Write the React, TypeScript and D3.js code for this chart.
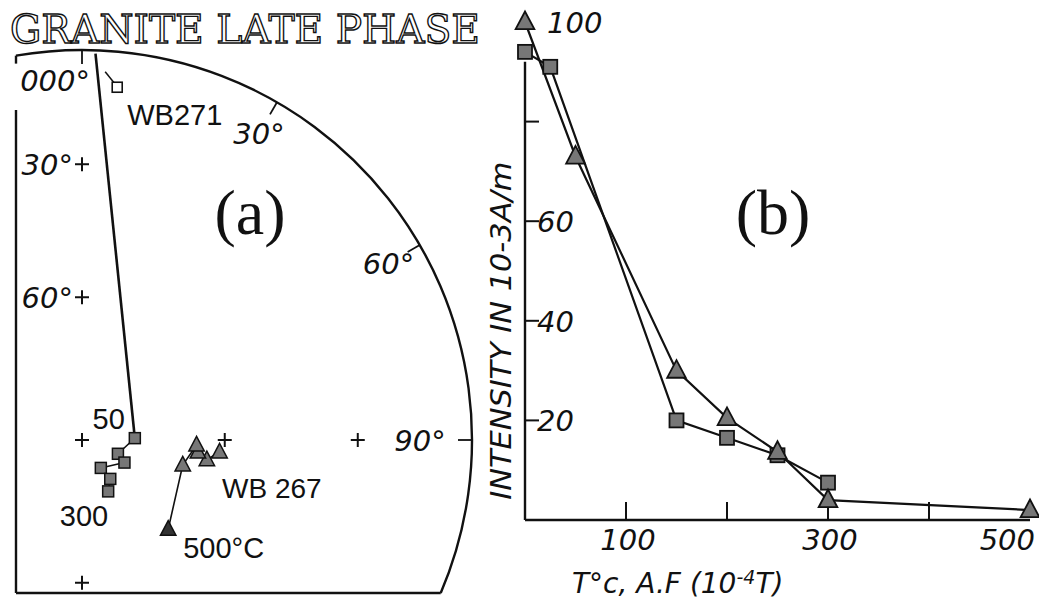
import React from "react";
import * as d3 from "d3";

// ---- (a) equal-area stereonet: declination / inclination in degrees ----
const wb271Dec = [2, 88, 111, 118, 146, 144, 153];
const wb271Inc = [1, 79, 82, 80, 83, 80, 78];
const wb271UpDec = [3.6, 5.2]; // short stroke in the upper hemisphere
const wb271UpInc = [-6, -9];
const wb271OpenDec = [5.7];
const wb271OpenInc = [-10];
const wb267Dec = [95, 99, 96, 92.5, 104, 136];
const wb267Inc = [61, 63.5, 65.6, 66, 68.3, 64];
const gridAzimuths = [0, 30, 60, 90];
const gridLabels = ["000°", "30°", "60°", "90°"];
const crossDec = [0, 0, 0, 90, 90, 180];
const crossInc = [90, 30, 60, 60, 30, 60];
const sideLabels = ["30°", "60°"];

// ---- (b) intensity decay ----
const squareTemps = [0, 25, 150, 200, 250, 300];
const squareValues = [94, 91, 20, 16.5, 13, 7.5];
const triangleTemps = [0, 50, 150, 200, 250, 300, 500];
const triangleValues = [100, 73, 30, 20.5, 13.7, 4, 2];
const xTicks = [100, 200, 300, 400];
const xTickLabels = [100, 300, 500];
const yTicks = [20, 40, 60, 80];
const yTickLabels = [20, 40, 60, 100];

const W = 1039;
const H = 607;
const ink = "#111";
const fillGrey = "#777";
const letterFont = "'DejaVu Sans', sans-serif";
const plainFont = "'Liberation Sans', Arial, sans-serif";

export default function App() {
  // stereonet geometry
  const cx = 82, cy = 440, R = 390;
  const leftX = 16, bottomY = 593;
  const rScale = d3.scaleLinear().domain([0, 1]).range([0, R]);
  const project = (dec: number, inc: number): [number, number] => {
    const r = rScale(Math.SQRT2 * Math.sin(((90 - Math.abs(inc)) * Math.PI) / 360));
    const a = (dec * Math.PI) / 180;
    return [cx + r * Math.sin(a), cy - r * Math.cos(a)];
  };
  const a0 = Math.asin((leftX - cx) / R);
  const a1 = Math.acos(-(bottomY - cy) / R);
  const prim = d3.path();
  prim.arc(cx, cy, R, a0 - Math.PI / 2, a1 - Math.PI / 2);
  const arcStartY = cy - R * Math.cos(a0);
  const arcEndX = cx + R * Math.sin(a1);

  const netLine = d3.line<[number, number]>();
  const p271 = wb271Dec.map((d, i) => project(d, wb271Inc[i]));
  const p271up = wb271UpDec.map((d, i) => project(d, wb271UpInc[i]));
  const p271open = wb271OpenDec.map((d, i) => project(d, wb271OpenInc[i]));
  const p267 = wb267Dec.map((d, i) => project(d, wb267Inc[i]));
  const crosses = crossDec.map((d, i) => project(d, crossInc[i]));

  const tri = (x: number, y: number, s: number) =>
    `M${x},${y - s * 0.62}L${x + s * 0.55},${y + s * 0.42}L${x - s * 0.55},${y + s * 0.42}Z`;

  // (b) scales
  const x = d3.scaleLinear().domain([0, 500]).range([525, 1030]);
  const y = d3.scaleLinear().domain([0, 100]).range([520, 22]);
  const sqLine = d3.line<number>().x((_, i) => x(squareTemps[i])).y((v) => y(v));
  const trLine = d3.line<number>().x((_, i) => x(triangleTemps[i])).y((v) => y(v));

  return (
    <svg
      width={W}
      height={H}
      style={{ position: "absolute", left: 0, top: 0, background: "#fff" }}
    >
      {/* title */}
      <text
        x={10}
        y={43}
        fontFamily="'DejaVu Serif', serif"
        fontSize={40}
        textLength={470}
        lengthAdjust="spacingAndGlyphs"
        fill="#fff"
        stroke={ink}
        strokeWidth={1.4}
      >
        GRANITE LATE PHASE
      </text>

      {/* ---------- panel (a) ---------- */}
      <g fill="none" stroke={ink} strokeWidth={2.4}>
        <path d={prim.toString()} />
        <line x1={leftX} y1={arcStartY} x2={leftX} y2={arcStartY + 8} />
        <line x1={leftX} y1={110} x2={leftX} y2={bottomY} />
        <line x1={leftX} y1={bottomY} x2={arcEndX} y2={bottomY} />
        {gridAzimuths.map((az) => {
          const a = (az * Math.PI) / 180;
          return (
            <line
              key={az}
              x1={cx + R * Math.sin(a)}
              y1={cy - R * Math.cos(a)}
              x2={cx + (R - 14) * Math.sin(a)}
              y2={cy - (R - 14) * Math.cos(a)}
              strokeWidth={1.8}
            />
          );
        })}
      </g>
      {gridAzimuths.map((az, i) => {
        const a = (az * Math.PI) / 180;
        const rr = az === 90 ? R - 52 : R - 36;
        const px = cx + rr * Math.sin(a);
        const py = cy - rr * Math.cos(a);
        return (
          <text
            key={az}
            x={az === 0 ? px + 8 : px}
            y={az === 0 ? py + 5 : py + 11}
            textAnchor={az === 0 ? "end" : "middle"}
            fontFamily={letterFont}
            fontStyle="italic"
            fontSize={29}
            fill={ink}
          >
            {gridLabels[i]}
          </text>
        );
      })}
      {crosses.map(([px, py], i) => (
        <g key={i} stroke={ink} strokeWidth={2}>
          <line x1={px - 7} y1={py} x2={px + 7} y2={py} />
          <line x1={px} y1={py - 7} x2={px} y2={py + 7} />
        </g>
      ))}
      {sideLabels.map((s, i) => {
        const [px, py] = crosses[i + 1];
        return (
          <text
            key={s}
            x={px - 9}
            y={py + 11}
            textAnchor="end"
            fontFamily={letterFont}
            fontStyle="italic"
            fontSize={29}
            fill={ink}
          >
            {s}
          </text>
        );
      })}

      {/* WB271 */}
      <path d={netLine([p271[0], p271[1]]) || ""} fill="none" stroke={ink} strokeWidth={2.6} />
      <path d={netLine(p271.slice(1)) || ""} fill="none" stroke={ink} strokeWidth={1.5} />
      <path d={netLine(p271up) || ""} fill="none" stroke={ink} strokeWidth={1.5} />
      {p271open.map(([px, py], i) => (
        <rect key={i} x={px - 5} y={py - 5} width={10} height={10} fill="#fff" stroke={ink} strokeWidth={1.6} />
      ))}
      {p271.slice(1).map(([px, py], i) => (
        <rect key={i} x={px - 5.5} y={py - 5.5} width={11} height={11} fill={fillGrey} stroke={ink} strokeWidth={1.5} />
      ))}
      <text x={p271open[0][0] + 10} y={p271open[0][1] + 38} fontFamily={plainFont} fontSize={29} fill={ink}>
        WB271
      </text>
      <text x={p271[1][0] - 10} y={p271[1][1] - 9} textAnchor="end" fontFamily={plainFont} fontSize={29} fill={ink}>
        50
      </text>
      <text x={p271[6][0]} y={p271[6][1] + 35} textAnchor="end" fontFamily={plainFont} fontSize={29} fill={ink}>
        300
      </text>

      {/* WB267 */}
      <path d={netLine(p267) || ""} fill="none" stroke={ink} strokeWidth={1.6} />
      {p267.map(([px, py], i) => (
        <path key={i} d={tri(px, py, 14)} fill={i === p267.length - 1 ? "#333" : fillGrey} stroke={ink} strokeWidth={1.5} />
      ))}
      <text x={222} y={498} fontFamily={plainFont} fontSize={28} fill={ink}>
        WB 267
      </text>
      <text x={p267[5][0] + 15} y={p267[5][1] + 29} fontFamily={plainFont} fontSize={29} fill={ink}>
        500°C
      </text>

      <text x={250} y={234} textAnchor="middle" fontFamily="'Liberation Serif', serif" fontSize={64} fill={ink}>
        (a)
      </text>

      {/* ---------- panel (b) ---------- */}
      <g stroke={ink} strokeWidth={2.4} fill="none">
        <line x1={x(0)} y1={y(0)} x2={x(0)} y2={y(92)} />
        <line x1={x(0)} y1={y(0)} x2={x(500)} y2={y(0)} />
        {xTicks.map((t) => (
          <line key={t} x1={x(t)} y1={y(0)} x2={x(t)} y2={y(0) - 18} strokeWidth={2} />
        ))}
        {yTicks.map((t) => (
          <line key={t} x1={x(0)} y1={y(t)} x2={x(0) + 14} y2={y(t)} strokeWidth={2} />
        ))}
      </g>
      {xTickLabels.map((t, i) => (
        <text
          key={t}
          x={i === xTickLabels.length - 1 ? W - 4 : x(t) + 2}
          y={y(0) + 30}
          textAnchor={i === xTickLabels.length - 1 ? "end" : "middle"}
          fontFamily={letterFont}
          fontStyle="italic"
          fontSize={29}
          fill={ink}
        >
          {t}
        </text>
      ))}
      {yTickLabels.map((t) => (
        <text
          key={t}
          x={x(0) + (t === 100 ? 22 : 12)}
          y={y(t) + 11}
          fontFamily={letterFont}
          fontStyle="italic"
          fontSize={29}
          fill={ink}
        >
          {t}
        </text>
      ))}
      <text
        transform={`translate(511,${y(38)}) rotate(-90)`}
        textAnchor="middle"
        fontFamily={letterFont}
        fontStyle="italic"
        fontSize={28}
        textLength={338}
        lengthAdjust="spacingAndGlyphs"
        fill={ink}
      >
        INTENSITY IN 10-3A/m
      </text>
      <text x={572} y={593} fontFamily={letterFont} fontStyle="italic" fontSize={28} fill={ink}>
        T°c, A.F (10
        <tspan dy={-9} fontSize={19}>-4</tspan>
        <tspan dy={9}>T)</tspan>
      </text>

      <path d={sqLine(squareValues) || ""} fill="none" stroke={ink} strokeWidth={2.2} />
      <path d={trLine(triangleValues) || ""} fill="none" stroke={ink} strokeWidth={2.2} />
      {squareValues.map((v, i) => (
        <rect
          key={i}
          x={x(squareTemps[i]) - 7}
          y={y(v) - 7}
          width={14}
          height={14}
          fill={fillGrey}
          stroke={ink}
          strokeWidth={1.8}
        />
      ))}
      {triangleValues.map((v, i) => (
        <path key={i} d={tri(x(triangleTemps[i]), y(v), 17)} fill={fillGrey} stroke={ink} strokeWidth={1.8} />
      ))}

      <text x={773} y={234} textAnchor="middle" fontFamily="'Liberation Serif', serif" fontSize={64} fill={ink}>
        (b)
      </text>
    </svg>
  );
}
